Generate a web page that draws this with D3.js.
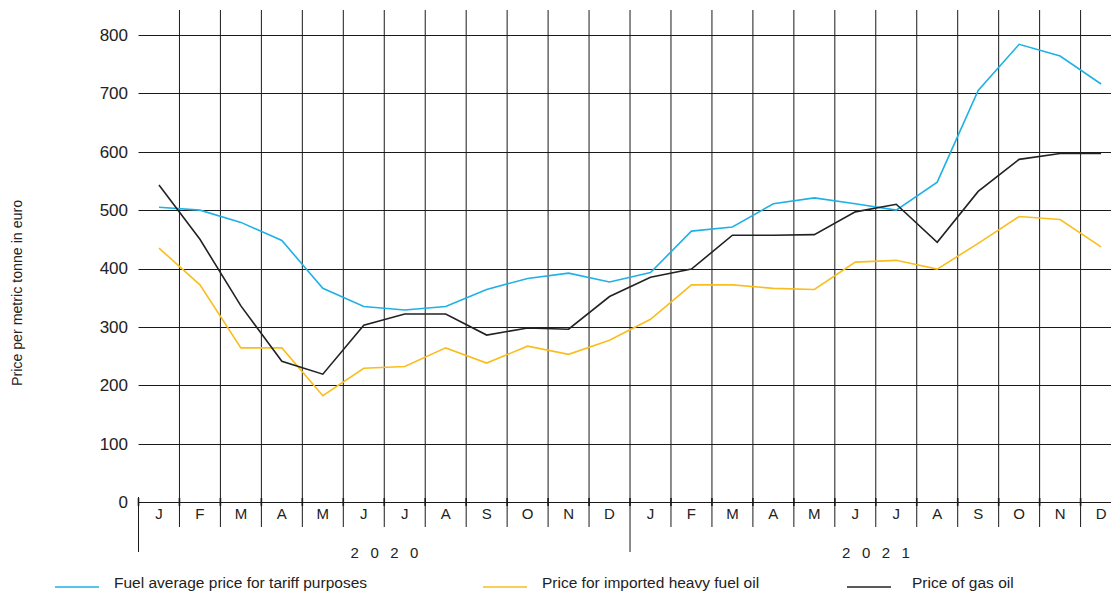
<!DOCTYPE html>
<html>
<head>
<meta charset="utf-8">
<script src="https://cdn.jsdelivr.net/npm/d3@7"></script>
<style>
  body { margin: 0; background: #fff; }
  svg { display: block; font-family: "Liberation Sans", Arial, sans-serif; }
</style>
</head>
<body>
<script>
// months, two years
var months = ["J","F","M","A","M","J","J","A","S","O","N","D","J","F","M","A","M","J","J","A","S","O","N","D"];
var years = ["2020", "2021"];
var yTicks = [0, 100, 200, 300, 400, 500, 600, 700, 800];

// price per metric tonne in euro
var fuelAverage = [505, 500, 479, 448, 366, 335, 329, 335, 364, 383, 392, 377,
                   393, 464, 471, 511, 521, 511, 500, 548, 705, 784, 764, 716];
var heavyFuel   = [435, 372, 264, 264, 182, 229, 232, 264, 238, 267, 253, 277,
                   313, 372, 372, 366, 364, 411, 414, 399, 443, 489, 484, 437];
var gasOil      = [543, 450, 336, 241, 219, 303, 322, 322, 286, 298, 296, 352,
                   385, 399, 457, 457, 458, 497, 510, 445, 532, 587, 597, 597];

var seriesNames = ["Fuel average price for tariff purposes", "Price for imported heavy fuel oil", "Price of gas oil"];
var seriesColors = ["#1fb1e6", "#f9be1e", "#222222"];

var width = 1111, height = 591;
var step = 40.96;
var plotLeft = 138.5;
var plotTop = 10, plotBottom = 502;

var svg = d3.select("body").append("svg")
    .attr("width", width)
    .attr("height", height);

var x = d3.scaleBand()
    .domain(d3.range(months.length))
    .range([plotLeft, plotLeft + step * months.length])
    .padding(0);

var y = d3.scaleLinear()
    .domain([0, 800])
    .range([plotBottom, 35]);

var grid = svg.append("g").attr("stroke", "#1a1a1a").attr("stroke-width", 1);

// horizontal gridlines
grid.selectAll(".hline")
    .data(yTicks)
    .enter().append("line")
    .attr("x1", plotLeft)
    .attr("x2", width)
    .attr("y1", function(d) { return Math.round(y(d)) + 0.5; })
    .attr("y2", function(d) { return Math.round(y(d)) + 0.5; });

// vertical gridlines at month boundaries
grid.selectAll(".vline")
    .data(d3.range(1, months.length))
    .enter().append("line")
    .attr("x1", function(d) { return x(d); })
    .attr("x2", function(d) { return x(d); })
    .attr("y1", plotTop)
    .attr("y2", function(d) { return d == 12 ? 552 : 527; });

// year separator below the axis
grid.append("line")
    .attr("x1", plotLeft).attr("x2", plotLeft)
    .attr("y1", 497).attr("y2", 552);

// small ticks on the axis
grid.selectAll(".tick")
    .data(d3.range(0, months.length))
    .enter().append("line")
    .attr("x1", function(d) { return x(d); })
    .attr("x2", function(d) { return x(d); })
    .attr("y1", plotBottom - 4)
    .attr("y2", plotBottom + 4)
    .attr("stroke-width", 1.6);

// y tick labels
svg.selectAll(".ylab")
    .data(yTicks)
    .enter().append("text")
    .attr("x", 128)
    .attr("y", function(d) { return y(d); })
    .attr("dy", "0.35em")
    .attr("text-anchor", "end")
    .attr("font-size", 17)
    .attr("fill", "#222")
    .text(function(d) { return d; });

// month labels
svg.selectAll(".mlab")
    .data(months)
    .enter().append("text")
    .attr("x", function(d, i) { return x(i) + x.bandwidth() / 2; })
    .attr("y", 519)
    .attr("text-anchor", "middle")
    .attr("font-size", 15)
    .attr("fill", "#222")
    .text(function(d) { return d; });

// year labels
svg.selectAll(".ylabel")
    .data(years)
    .enter().append("text")
    .attr("x", function(d, i) { return x(i * 12 + 6) + 6; })
    .attr("y", 558)
    .attr("text-anchor", "middle")
    .attr("font-size", 15)
    .attr("letter-spacing", "11.5px")
    .attr("fill", "#222")
    .text(function(d) { return d; });

// y axis title
svg.append("text")
    .attr("transform", "translate(22,293) rotate(-90)")
    .attr("text-anchor", "middle")
    .attr("font-size", 14.2)
    .attr("fill", "#222")
    .text("Price per metric tonne in euro");

// lines
var line = d3.line()
    .x(function(d, i) { return x(i) + x.bandwidth() / 2; })
    .y(function(d) { return y(d); });

var allSeries = [fuelAverage, heavyFuel, gasOil];

svg.selectAll(".series")
    .data(allSeries)
    .enter().append("path")
    .attr("d", line)
    .attr("fill", "none")
    .attr("stroke", function(d, i) { return seriesColors[i]; })
    .attr("stroke-width", 1.6)
    .attr("stroke-linejoin", "miter");

// legend
var legendX = [55, 483, 847];
var legend = svg.selectAll(".legend")
    .data(seriesNames)
    .enter().append("g")
    .attr("transform", function(d, i) { return "translate(" + legendX[i] + ",587)"; });

legend.append("line")
    .attr("x1", 0).attr("x2", 44)
    .attr("y1", 0).attr("y2", 0)
    .attr("stroke", function(d, i) { return seriesColors[i]; })
    .attr("stroke-width", 1.6);

legend.append("text")
    .attr("x", function(d, i) { return i == 2 ? 65 : 59; })
    .attr("y", 1)
    .attr("font-size", 15.5)
    .attr("fill", "#222")
    .text(function(d) { return d; });
</script>
</body>
</html>
